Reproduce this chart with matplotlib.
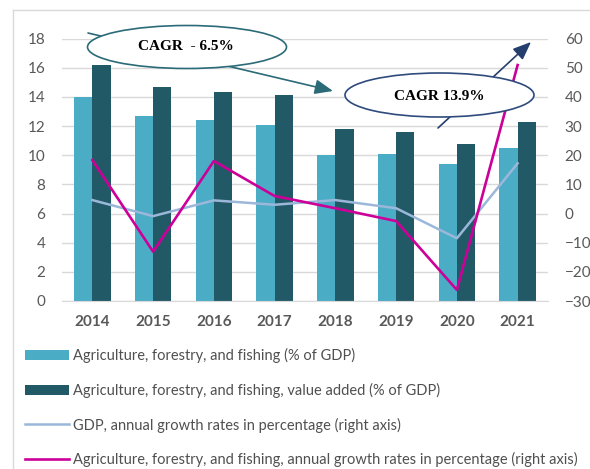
import matplotlib.pyplot as plt
from matplotlib.patches import Ellipse
from matplotlib.lines import Line2D
import numpy as np

years = ['2014', '2015', '2016', '2017', '2018', '2019', '2020', '2021']
agri_share = [14.0, 12.7, 12.4, 12.1, 10.0, 10.1, 9.4, 10.5]
agri_value_added = [16.2, 14.7, 14.3, 14.1, 11.8, 11.6, 10.8, 12.3]
gdp_growth = [4.6, -0.9, 4.5, 3.0, 4.6, 1.8, -8.5, 17.2]
agri_growth = [18.3, -13.1, 18.0, 6.0, 1.8, -2.6, -26.2, 50.9]

labels = ['Agriculture, forestry, and fishing (% of GDP)',
          'Agriculture, forestry, and fishing, value added (% of GDP)',
          'GDP, annual growth rates in percentage (right axis)',
          'Agriculture, forestry, and fishing, annual growth rates in percentage (right axis)']

c_light = '#4bacc6'
c_dark = '#215a66'
c_gdp = '#9bb7d9'
c_agri = '#cc0099'
grey = '#595959'

W, H = 590, 469


def px(x, y):
    # pixel position -> figure fraction
    return (x / W, 1 - y / H)


fig = plt.figure(figsize=(W / 100, H / 100), dpi=100)
plt.rcParams['font.family'] = ['Lato', 'DejaVu Sans']

ax = fig.add_axes([62 / W, 1 - 301 / H, (548 - 62) / W, (301 - 38.5) / H])
x = np.arange(len(years))
bw = 0.3
ax.bar(x - bw / 2, agri_share, bw, color=c_light, label=labels[0], zorder=2)
ax.bar(x + bw / 2, agri_value_added, bw, color=c_dark, label=labels[1], zorder=2)
ax.set_ylim(0, 18)
ax.set_yticks(range(0, 19, 2))
ax.set_xlim(-0.5, len(years) - 0.5)
ax.set_xticks(x)
ax.set_xticklabels(years, fontweight='bold', fontsize=11)
ax.grid(axis='y', color='#d9d9d9', linewidth=1, zorder=0)
ax.set_axisbelow(True)
for s in ['top', 'right', 'left']:
    ax.spines[s].set_visible(False)
ax.spines['bottom'].set_color('#d9d9d9')
ax.tick_params(length=0, colors=grey, labelsize=11)
ax.tick_params(axis='x', pad=10)
ax.tick_params(axis='y', pad=12)

ax2 = ax.twinx()
ax2.plot(x, gdp_growth, color=c_gdp, lw=1.8, label=labels[2])
ax2.plot(x, agri_growth, color=c_agri, lw=1.9, label=labels[3])
ax2.set_ylim(-30, 60)
ax2.set_yticks(range(-30, 61, 10))
for s in ax2.spines.values():
    s.set_visible(False)
ax2.tick_params(length=0, colors=grey, labelsize=11, pad=12)

# outer frame (top and left edges visible)
fig.add_artist(Line2D([13 / W, 1], [1 - 10 / H, 1 - 10 / H], transform=fig.transFigure, color='#d9d9d9', lw=1))
fig.add_artist(Line2D([13 / W, 13 / W], [0, 1 - 10 / H], transform=fig.transFigure, color='#d9d9d9', lw=1))

# CAGR call-outs
arrow1 = plt.Annotation('', xy=px(333, 91), xytext=px(88, 33), xycoords='figure fraction',
                        arrowprops=dict(arrowstyle='-|>,head_length=1.1,head_width=0.45',
                                        color='#2b6b78', lw=1.2, shrinkA=0, shrinkB=0))
arrow1.set_zorder(5)
fig.add_artist(arrow1)
fig.add_artist(Ellipse(px(187, 47), 199 / W, 43 / H, transform=fig.transFigure,
                       facecolor='white', edgecolor='#2b6b78', lw=1.2, zorder=6))
fig.text(*px(186, 47), 'CAGR  - 6.5%', ha='center', va='center', fontsize=11,
         fontweight='bold', family='Liberation Serif', zorder=7)

arrow2 = plt.Annotation('', xy=px(531, 42), xytext=px(438, 128), xycoords='figure fraction',
                        arrowprops=dict(arrowstyle='-|>,head_length=1.1,head_width=0.45',
                                        color='#243f6e', lw=1.2, shrinkA=0, shrinkB=0))
arrow2.set_zorder(5)
fig.add_artist(arrow2)
fig.add_artist(Ellipse(px(439.5, 95), 189 / W, 44 / H, transform=fig.transFigure,
                       facecolor='white', edgecolor='#2f4b7c', lw=1.2, zorder=6))
fig.text(*px(439.5, 96), 'CAGR 13.9%', ha='center', va='center', fontsize=11,
         fontweight='bold', family='Liberation Serif', zorder=7)

h1, l1 = ax.get_legend_handles_labels()
h2, l2 = ax2.get_legend_handles_labels()
fig.legend(h1 + h2, l1 + l2, loc='upper left', bbox_to_anchor=px(25, 348),
           frameon=False, fontsize=10.5, labelcolor='#505050', handlelength=3.0,
           handletextpad=0.3, labelspacing=1.35, borderpad=0, borderaxespad=0)

fig.savefig('out.png', dpi=100)
